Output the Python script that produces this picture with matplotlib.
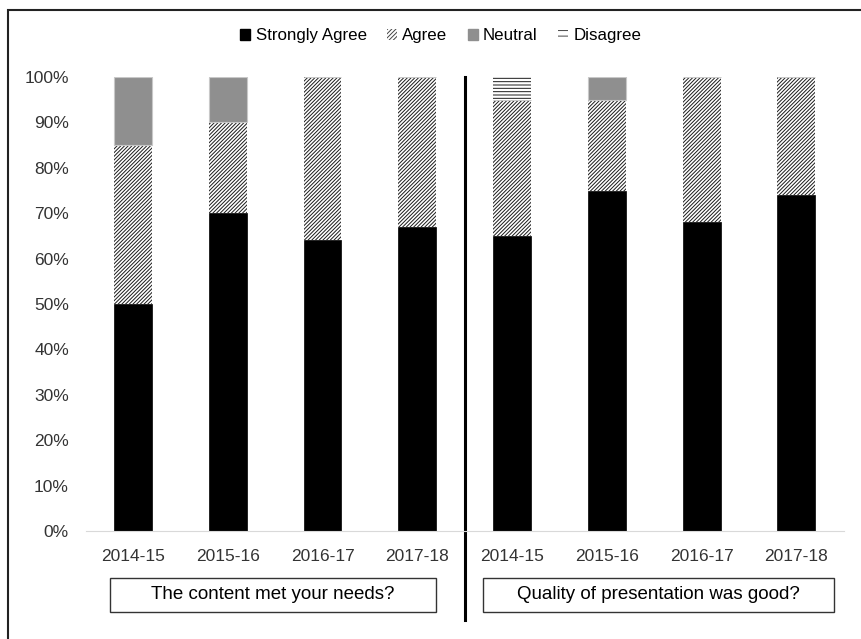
import numpy as np
import matplotlib.pyplot as plt
from matplotlib.patches import Rectangle, Patch

plt.rcParams['font.family'] = ['Liberation Sans', 'DejaVu Sans']
plt.rcParams['hatch.linewidth'] = 0.7

years = ["2014-15", "2015-16", "2016-17", "2017-18"]
questions = ["The content met your needs?", "Quality of presentation was good?"]

strongly_agree = [50, 70, 64, 67, 65, 75, 68, 74]
agree = [35, 20, 36, 33, 30, 20, 32, 26]
neutral = [15, 10, 0, 0, 0, 5, 0, 0]
disagree = [0, 0, 0, 0, 5, 0, 0, 0]

labels = years + years
x = np.arange(len(labels))

fig = plt.figure(figsize=(8.61, 6.39), dpi=100)
# outer frame (runs off the right and bottom edges as in the source)
fig.add_artist(Rectangle((8 / 861, -0.05), 1.0, (629 / 639) + 0.05,
                         transform=fig.transFigure, facecolor='none',
                         edgecolor='#222222', linewidth=1.5))
ax = fig.add_axes([0.0994, 0.169, 0.8806, 0.7105])

w = 0.4
sa = np.array(strongly_agree)
ag = np.array(agree)
ne = np.array(neutral)
di = np.array(disagree)

ax.bar(x, sa, w, color='black', edgecolor='black', linewidth=0.5)
ax.bar(x, ag, w, bottom=sa, color='white', edgecolor='#1a1a1a', hatch='/////////', linewidth=0)
ax.bar(x, ne, w, bottom=sa + ag, color='#8f8f8f', edgecolor='#c8c8c8', linewidth=0.8)
ax.bar(x, di, w, bottom=sa + ag + ne, color='white', edgecolor='#1a1a1a', hatch='-----', linewidth=0)

ax.set_xlim(-0.5, 7.5)
ax.set_ylim(0, 100)
ax.set_yticks(np.arange(0, 101, 10))
ax.set_yticklabels([f"{v}%" for v in range(0, 101, 10)])
ax.set_xticks(x)
ax.set_xticklabels(labels)
ax.tick_params(axis='both', length=0, labelsize=12.5, colors='#333333')
ax.tick_params(axis='y', pad=12)
ax.tick_params(axis='x', pad=13)
for s in ['top', 'right', 'left']:
    ax.spines[s].set_visible(False)
ax.spines['bottom'].set_color('#d9d9d9')

# divider between the two questions
ax.axvline(3.5, ymin=-0.196, ymax=1.0, color='black', linewidth=2.2, clip_on=False)

# question label boxes
tr = ax.get_xaxis_transform()
boxes = [(-0.24, 3.2), (3.69, 7.4)]
for (x0, x1), q in zip(boxes, questions):
    ax.add_patch(Rectangle((x0, -0.178), x1 - x0, 0.0745, transform=tr,
                           facecolor='white', edgecolor='#333333', linewidth=1,
                           clip_on=False))
    ax.text((x0 + x1) / 2, -0.1405, q, transform=tr, ha='center', va='center',
            fontsize=13.5, color='black')

handles = [
    Patch(facecolor='black', edgecolor='black', label='Strongly Agree'),
    Patch(facecolor='white', edgecolor='#444444', hatch='////////', linewidth=0, label='Agree'),
    Patch(facecolor='#8f8f8f', edgecolor='#8f8f8f', label='Neutral'),
    Patch(facecolor='white', edgecolor='#444444', hatch='---', linewidth=0, label='Disagree'),
]
fig.legend(handles=handles, loc='center', bbox_to_anchor=(0.512, 0.944), ncol=4,
           frameon=False, fontsize=12.2, handlelength=0.6, handleheight=0.6,
           handletextpad=0.3, columnspacing=1.2)

fig.savefig('out.png', dpi=100)
